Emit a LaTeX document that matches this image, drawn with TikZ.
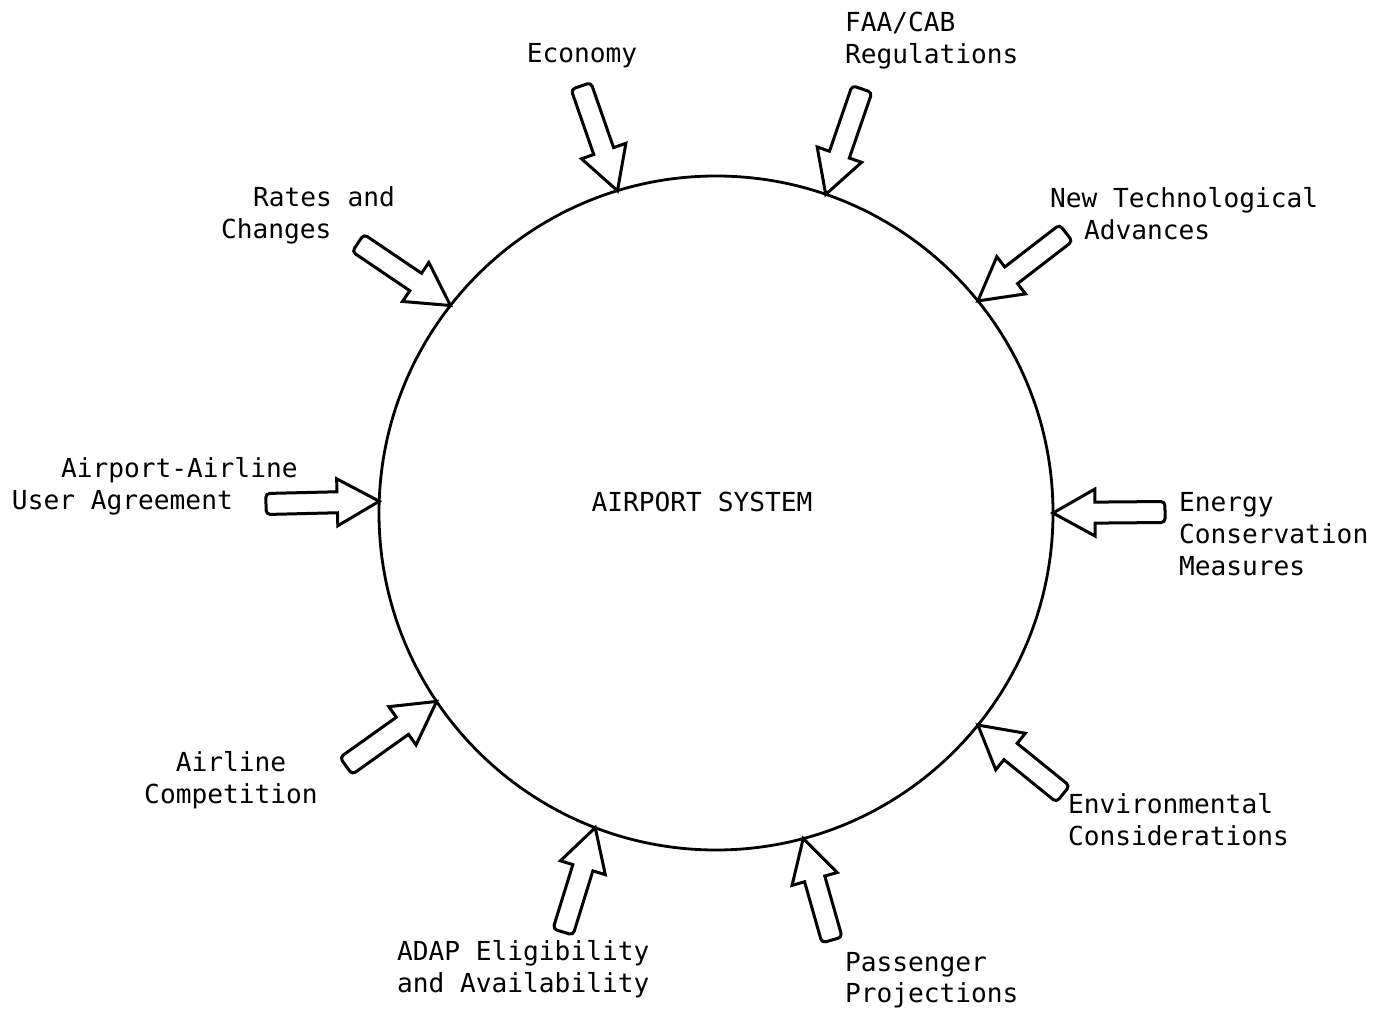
\documentclass[tikz,border=0pt]{standalone}
\usepackage{fontspec}
\setmonofont{DejaVu Sans Mono}
\usetikzlibrary{calc}
\newcommand\blockarrow[2]{%
 \draw[blk] (#1)
  -- ($(#1)!42pt!(#2)!23.5pt!90:(#2)$)
  -- ($(#1)!42pt!(#2)!10.5pt!90:(#2)$)
  [rounded corners=4pt] -- ($(#2)!10.5pt!-90:(#1)$)
  -- ($(#2)!10.5pt!90:(#1)$)
  [sharp corners] -- ($(#1)!42pt!(#2)!10.5pt!-90:(#2)$)
  -- ($(#1)!42pt!(#2)!23.5pt!-90:(#2)$) -- cycle;}
\tikzset{
  blk/.style={draw, line width=3pt, fill=white},
  lab/.style={font=\ttfamily\fontsize{26.2}{32}\selectfont, inner sep=0pt, outer sep=0pt},
}
\begin{document}
\begin{tikzpicture}[x=1pt,y=1pt]
\useasboundingbox[fill=white] (0,0) rectangle (1394,1010);
\node[draw, circle, line width=2.8pt, minimum size=674pt, inner sep=0pt, outer sep=0pt] (sys) at (716,497) {};
\node[lab, anchor=base] (title) at (702,498) {AIRPORT SYSTEM};
% tails
\coordinate (t1) at (581,924);
\coordinate (t2) at (862,921);
\coordinate (t3) at (1066,777);
\coordinate (t4) at (358,767);
\coordinate (t5) at (266,506);
\coordinate (t6) at (1165,498);
\coordinate (t7) at (346,244);
\coordinate (t8) at (1063,216);
\coordinate (t9) at (563,78);
\coordinate (t10) at (832,70);
\blockarrow{sys.107}{t1}
\blockarrow{sys.71.7}{t2}
\blockarrow{sys.39.1}{t3}
\blockarrow{sys.142.8}{t4}
\blockarrow{sys.178.6}{t5}
\blockarrow{sys.-0.3}{t6}
\blockarrow{sys.214.3}{t7}
\blockarrow{sys.321.5}{t8}
\blockarrow{sys.249.7}{t9}
\blockarrow{sys.285.5}{t10}
% labels
\node[lab, anchor=base] (l1) at (582,947) {Economy};
\node[lab, anchor=base west] (l2a) at (845,978) {FAA/CAB};
\node[lab, anchor=base west] (l2b) at (845,946) {Regulations};
\node[lab, anchor=base west] (l3a) at (1050,802) {New Technological};
\node[lab, anchor=base west] (l3b) at (1084,770) {Advances};
\node[lab, anchor=base west] (l4a) at (253,803) {Rates and};
\node[lab, anchor=base west] (l4b) at (221,771) {Changes};
\node[lab, anchor=base west] (l5a) at (61,532) {Airport-Airline};
\node[lab, anchor=base west] (l5b) at (12,500) {User Agreement};
\node[lab, anchor=base west] (l6a) at (1179,498) {Energy};
\node[lab, anchor=base west] (l6b) at (1179,466) {Conservation};
\node[lab, anchor=base west] (l6c) at (1179,434) {Measures};
\node[lab, anchor=base] (l7a) at (231,239) {Airline};
\node[lab, anchor=base] (l7b) at (231,207) {Competition};
\node[lab, anchor=base west] (l8a) at (1068,197) {Environmental};
\node[lab, anchor=base west] (l8b) at (1068,165) {Considerations};
\node[lab, anchor=base west] (l9a) at (397,50) {ADAP Eligibility};
\node[lab, anchor=base west] (l9b) at (397,18) {and Availability};
\node[lab, anchor=base west] (l10a) at (845,39) {Passenger};
\node[lab, anchor=base west] (l10b) at (845,8) {Projections};
\end{tikzpicture}
\end{document}
